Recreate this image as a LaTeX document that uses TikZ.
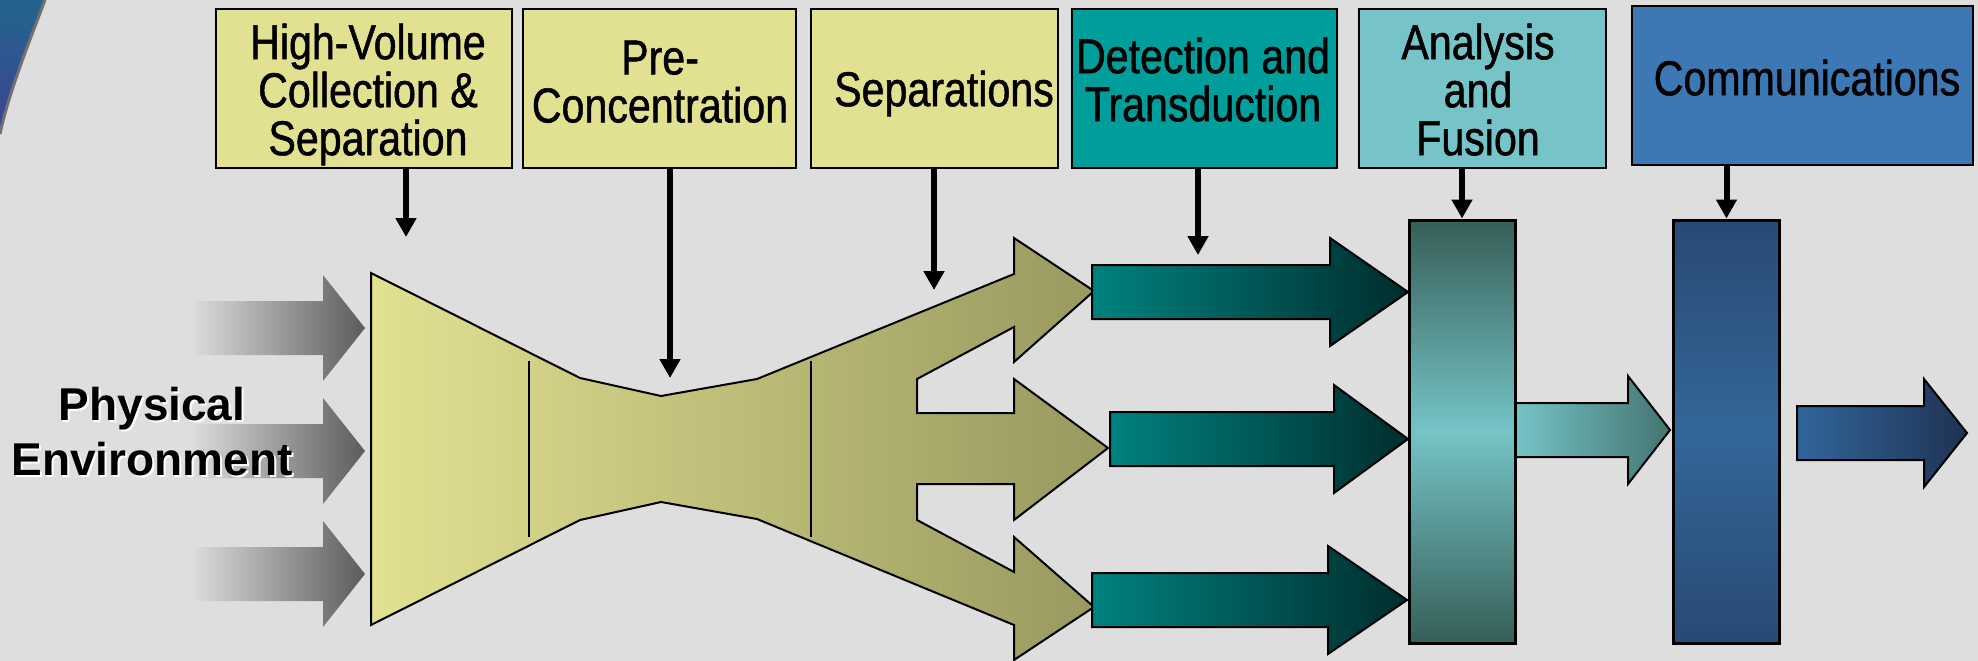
\documentclass[tikz,border=0pt]{standalone}
\usepackage{fontspec}
\setmainfont{Liberation Sans}
\newfontfamily\narrowfont[FakeStretch=0.84,FakeBold=1]{Liberation Sans}
\usetikzlibrary{arrows.meta}
\definecolor{bgc}{RGB}{222,222,222}
\definecolor{ylw}{RGB}{226,225,145}
\definecolor{olv}{RGB}{152,152,96}
\definecolor{tealbox}{RGB}{0,158,154}
\definecolor{ltealbox}{RGB}{118,196,200}
\definecolor{bluebox}{RGB}{61,120,181}
\definecolor{tealL}{RGB}{0,130,127}
\definecolor{tealR}{RGB}{0,45,45}
\definecolor{anaE}{RGB}{54,94,88}
\definecolor{anaM}{RGB}{117,196,198}
\definecolor{midR}{RGB}{68,116,113}
\definecolor{comE}{RGB}{39,74,115}
\definecolor{comM}{RGB}{52,102,152}
\definecolor{finL}{RGB}{50,102,156}
\definecolor{finR}{RGB}{30,50,82}
\definecolor{grayL}{RGB}{218,218,218}
\definecolor{grayR}{RGB}{92,92,92}
\definecolor{swT}{RGB}{35,100,140}
\definecolor{swB}{RGB}{62,66,150}
\definecolor{swEdge}{RGB}{112,112,112}
\tikzset{
  topbox/.style={draw=black, line width=2pt, inner sep=0pt},
  boxtext/.style={font=\narrowfont\fontsize{49}{48}\selectfont, align=center, inner sep=0pt, anchor=north},
  petext/.style={font=\fontsize{46}{55}\selectfont\bfseries, align=center, inner sep=0pt, anchor=north},
  conn/.style={line width=6pt, -{Triangle[width=20pt,length=19pt]}},
  outline/.style={draw=black, line width=2pt, line join=miter},
  tallrect/.style={draw=black, line width=3pt, inner sep=0pt, minimum width=106pt, minimum height=423pt},
}
\begin{document}
\begin{tikzpicture}[x=1pt,y=-1pt]
\useasboundingbox (0,0) rectangle (1978,661);
\fill[bgc] (0,0) rectangle (1978,661);
% corner swoosh
\shade[top color=swT, bottom color=swB] (0,0) -- (45,0) .. controls (28,45) and (8,95) .. (0,134) -- cycle;
\draw[line width=3pt, swEdge] (45,0) .. controls (28,45) and (8,95) .. (0,134);

% top boxes
\node[topbox, fill=ylw, minimum width=296pt, minimum height=159pt] (b1) at (364,88.5) {};
\node[topbox, fill=ylw, minimum width=273pt, minimum height=159pt] (b2) at (659.5,88.5) {};
\node[topbox, fill=ylw, minimum width=247pt, minimum height=159pt] (b3) at (934.5,88.5) {};
\node[topbox, fill=tealbox, minimum width=265pt, minimum height=159pt] (b4) at (1204.5,88.5) {};
\node[topbox, fill=ltealbox, minimum width=247pt, minimum height=159pt] (b5) at (1482.5,88.5) {};
\node[topbox, fill=bluebox, minimum width=341pt, minimum height=159pt] (b6) at (1802.5,85.5) {};

\node[boxtext] (l1) at (368,23.5) {High-Volume\\Collection \&\\Separation};
\node[boxtext] (l2) at (660,40.5) {Pre-\\Concentration};
\node[boxtext] (l3) at (944,70.5) {Separations};
\node[boxtext] (l4) at (1203,37.5) {Detection and\\Transduction};
\node[boxtext] (l5) at (1478,23.5) {Analysis\\and\\Fusion};
\node[boxtext] (l6) at (1807,59.5) {Communications};

% input arrows
\shade[left color=grayL, right color=grayR] (195,301) -- (323,301) -- (323,275) -- (365,328) -- (323,381) -- (323,355) -- (195,355) -- cycle;
\shade[left color=grayL, right color=grayR] (195,424) -- (323,424) -- (323,398) -- (365,451) -- (323,504) -- (323,478) -- (195,478) -- cycle;
\shade[left color=grayL, right color=grayR] (195,547) -- (323,547) -- (323,521) -- (365,574) -- (323,627) -- (323,601) -- (195,601) -- cycle;

% physical environment
\node[petext, text=white] (pes) at (154,389) {Physical\\Environment};
\node[petext] (pe) at (152,387) {Physical\\Environment};

% funnel / separation shape
\shadedraw[outline, left color=ylw, right color=olv]
  (371,273) -- (580,378) -- (661,396) -- (757,379) -- (1014,274) -- (1014,238) -- (1094,291)
  -- (1014,362) -- (1014,327) -- (917,379) -- (917,413) -- (1014,413) -- (1014,379) -- (1108,448)
  -- (1014,520) -- (1014,484) -- (917,484) -- (917,520) -- (1014,572) -- (1014,537) -- (1094,607)
  -- (1014,660) -- (1014,625) -- (757,519) -- (661,502) -- (580,520) -- (371,625) -- cycle;
\draw[line width=2pt] (529,361) -- (529,537);
\draw[line width=2pt] (811,361) -- (811,537);

% detection arrows
\shadedraw[outline, left color=tealL, right color=tealR] (1092,265) -- (1330,265) -- (1330,238) -- (1408,292) -- (1330,346) -- (1330,319) -- (1092,319) -- cycle;
\shadedraw[outline, left color=tealL, right color=tealR] (1110,412) -- (1334,412) -- (1334,385) -- (1408,439) -- (1334,493) -- (1334,466) -- (1110,466) -- cycle;
\shadedraw[outline, left color=tealL, right color=tealR] (1092,573) -- (1328,573) -- (1328,546) -- (1407,600) -- (1328,654) -- (1328,627) -- (1092,627) -- cycle;

% analysis to communications arrow
\shadedraw[outline, left color=anaM, right color=midR] (1515,403) -- (1628,403) -- (1628,376) -- (1670,430) -- (1628,484) -- (1628,457) -- (1515,457) -- cycle;

% tall rectangles
\node[tallrect, top color=anaE, bottom color=anaE, middle color=anaM] (ana) at (1462,431.5) {};
\node[tallrect, top color=comE, bottom color=comE, middle color=comM] (com) at (1726.5,431.5) {};

% output arrow
\shadedraw[outline, left color=finL, right color=finR] (1797,406) -- (1924,406) -- (1924,379) -- (1967,433) -- (1924,487) -- (1924,460) -- (1797,460) -- cycle;

% connectors from top boxes
\coordinate (c1) at (406,237);
\coordinate (c2) at (670,378);
\coordinate (c3) at (934,290);
\coordinate (c4) at (1198,255);
\draw[conn] (b1.south -| c1) -- (c1);
\draw[conn] (b2.south -| c2) -- (c2);
\draw[conn] (b3.south -| c3) -- (c3);
\draw[conn] (b4.south -| c4) -- (c4);
\draw[conn] (b5.south -| ana.north) -- (ana.north);
\draw[conn] (b6.south -| com.north) -- (com.north);
\end{tikzpicture}
\end{document}
